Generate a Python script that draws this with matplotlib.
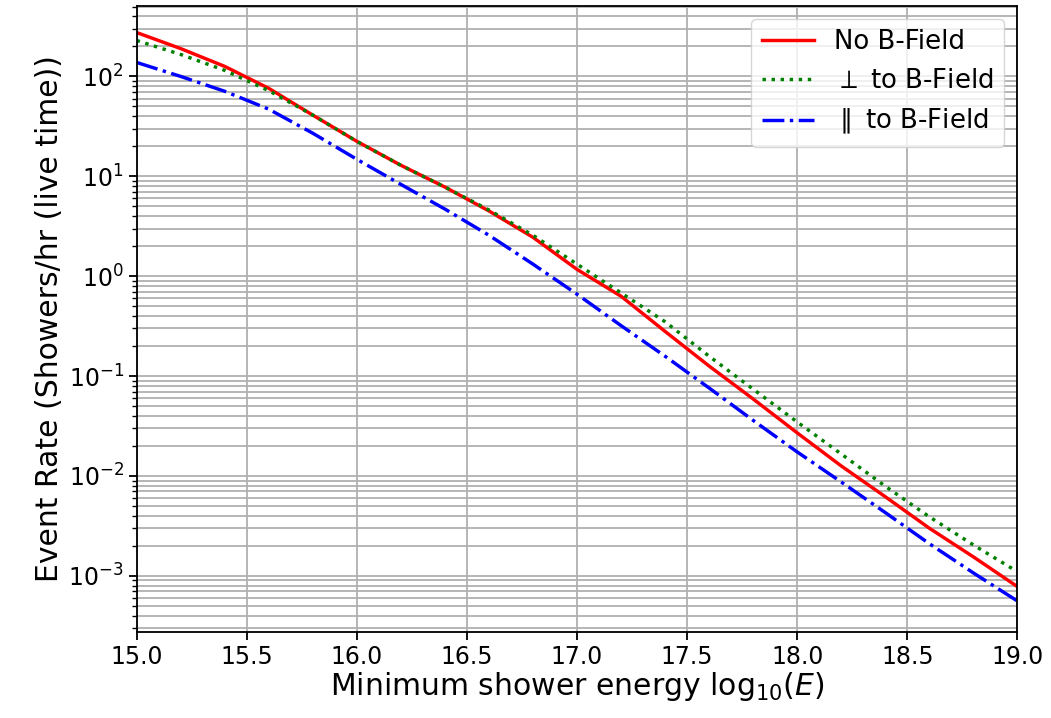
import numpy as np
import matplotlib
matplotlib.use("Agg")
import matplotlib.pyplot as plt

# minimum shower energy log10(E)
energy = [15.0, 15.2, 15.4, 15.6, 15.8, 16.0, 16.2, 16.4, 16.6, 16.8, 17.0,
          17.2, 17.4, 17.6, 17.8, 18.0, 18.2, 18.4, 18.6, 18.8, 19.0]

# event rates (showers/hr live time)
rate_no_b = [275, 190, 126, 76, 41, 22.4, 12.9, 7.8, 4.5, 2.45, 1.17,
             0.63, 0.28, 0.126, 0.059, 0.027, 0.0126, 0.0062, 0.0030, 0.00155, 0.00078]
rate_perp = [229, 166, 115, 72, 41, 22.4, 12.9, 7.8, 4.6, 2.57, 1.32,
             0.68, 0.35, 0.158, 0.074, 0.0347, 0.0166, 0.0079, 0.0039, 0.00204, 0.0011]
rate_par = [138, 100, 71, 47, 27, 14.8, 8.3, 4.7, 2.57, 1.32, 0.66,
            0.32, 0.158, 0.076, 0.036, 0.0174, 0.0087, 0.0043, 0.0021, 0.00107, 0.00056]

s = 1.64  # scale factor vs. default matplotlib sizes
plt.rcParams.update({
    "font.size": 10.4 * s,
    "lines.linewidth": 1.5 * s,
    "grid.linewidth": 0.8 * s,
    "axes.linewidth": 0.8 * s,
    "xtick.major.size": 3.5 * s, "ytick.major.size": 3.5 * s,
    "ytick.minor.size": 2 * s,
    "xtick.major.width": 0.8 * s, "ytick.major.width": 0.8 * s,
    "ytick.minor.width": 0.6 * s,
})

fig = plt.figure(figsize=(10.51, 7.18), dpi=100)
ax = fig.add_axes([0.130, 0.120, 0.838, 0.872])

ax.plot(energy, rate_no_b, color="red", linestyle="-", label="No B-Field")
ax.plot(energy, rate_perp, color="green", linestyle=":", label=r"$\perp$ to B-Field")
ax.plot(energy, rate_par, color="blue", linestyle="-.", label=r"$\parallel$ to B-Field")

ax.set_yscale("log")
ax.set_xlim(15.0, 19.0)
ax.set_ylim(2.75e-4, 5.1e2)
ax.grid(True, which="both")
ax.set_xlabel(r"Minimum shower energy log$_{10}$($E$)", fontsize=21.5, labelpad=1)
ax.set_ylabel("Event Rate (Showers/hr (live time))", fontsize=21.5, labelpad=3)
ax.legend(loc="upper right", fontsize=18.7)

fig.savefig("out.png", dpi=100)
